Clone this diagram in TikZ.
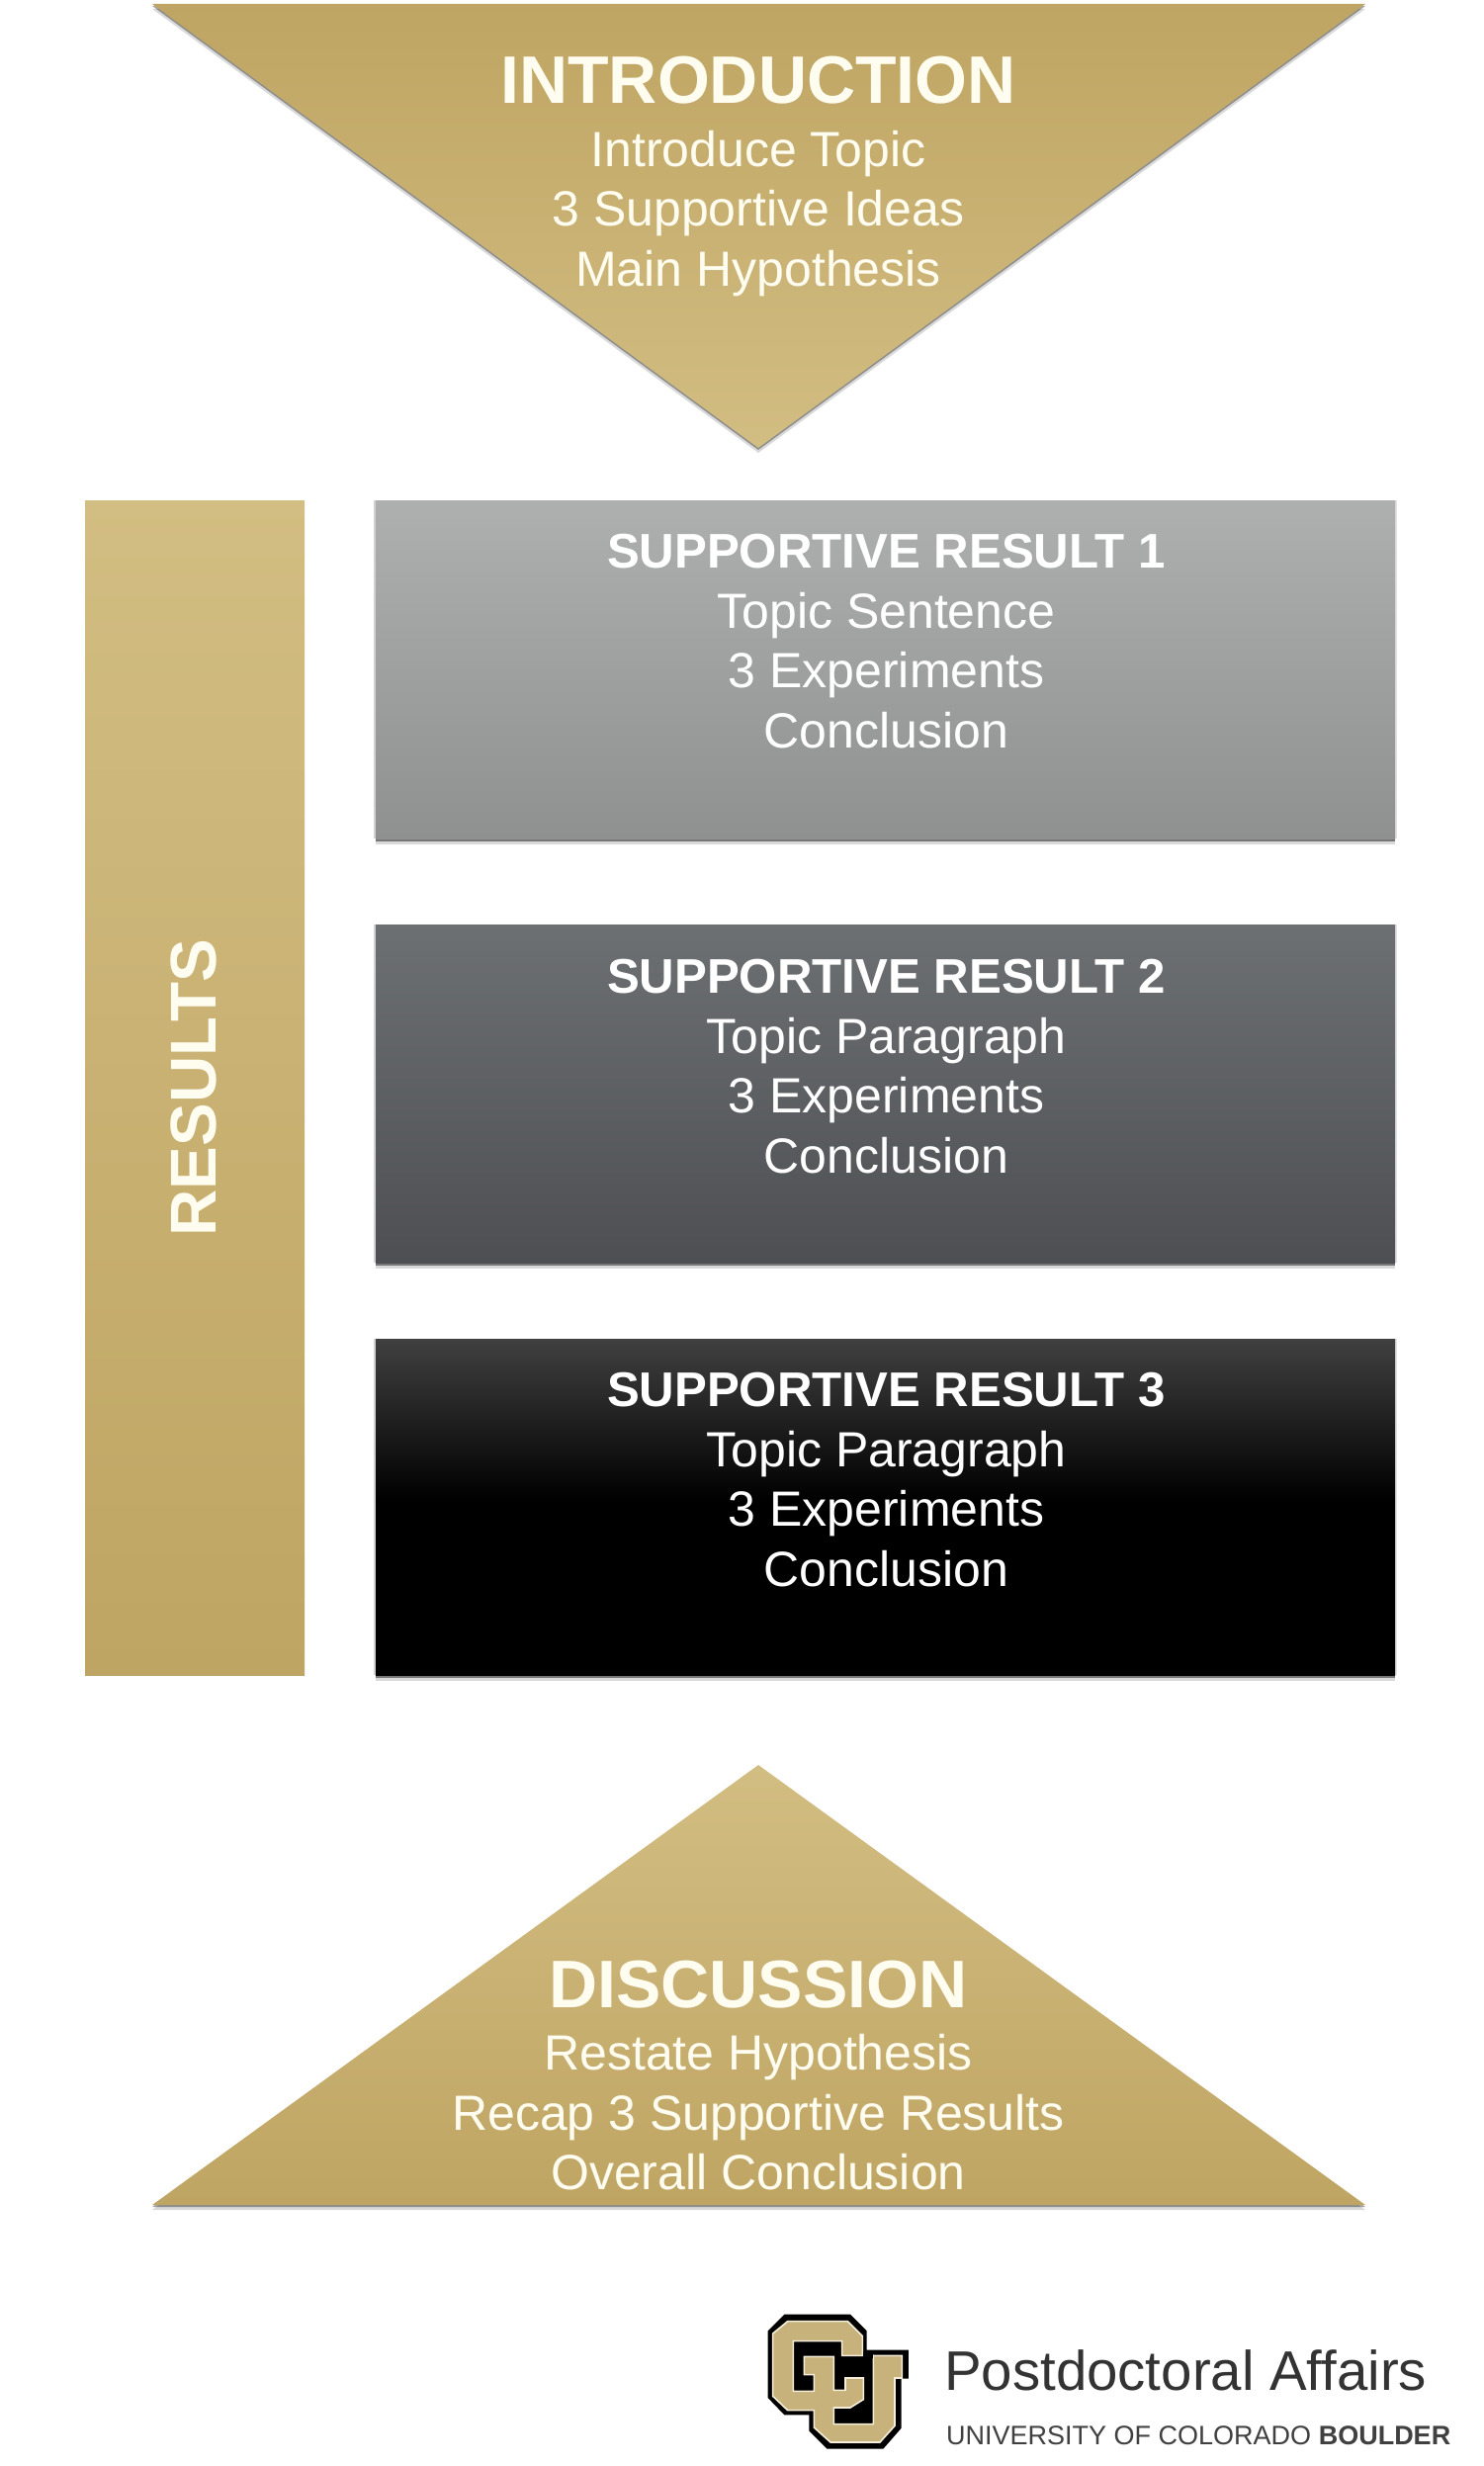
\documentclass[tikz,border=0pt]{standalone}
\usepackage{fontspec}
\setmainfont{Liberation Sans}
\usetikzlibrary{shadows}
\definecolor{goldtop}{HTML}{BFA563}
\definecolor{goldlow}{HTML}{D2BD82}
\definecolor{creamtext}{HTML}{FFFCF0}
\definecolor{logogold}{HTML}{C8B27C}
\definecolor{logocream}{HTML}{F4EEDB}
\definecolor{lighttop}{HTML}{AEB0AF}
\definecolor{lightlow}{HTML}{8F9090}
\definecolor{slatetop}{HTML}{6D7073}
\definecolor{slatelow}{HTML}{4D4F52}
\pgfdeclareverticalshading{blackfade}{100bp}{color(0bp)=(black); color(51bp)=(black); color(75bp)=(black!75!white); color(100bp)=(black!75!white)}
\tikzstyle{softshadow} = [drop shadow={shadow xshift=-2pt,shadow yshift=0pt,opacity=.18,fill=black},drop shadow={shadow xshift=2pt,shadow yshift=0pt,opacity=.12,fill=black},drop shadow={shadow xshift=0pt,shadow yshift=-6pt,opacity=.15,fill=black},drop shadow={shadow xshift=0pt,shadow yshift=-3pt,opacity=.45,fill=black}]
\tikzstyle{wedgeshadow} = [drop shadow={shadow xshift=0pt,shadow yshift=-5pt,opacity=.15,fill=black},drop shadow={shadow xshift=0pt,shadow yshift=-2pt,opacity=.35,fill=black}]
\tikzstyle{resbox} = [anchor=north west, minimum width=1031pt, minimum height=342pt, inner sep=0pt, softshadow]
\tikzstyle{lines} = [align=center, inner sep=0pt, font={\fontsize{50}{60.5}\selectfont}]
\tikzstyle{heading} = [lines, text=creamtext]
\newcommand{\bigtitle}[1]{{\fontsize{68}{60.5}\selectfont\bfseries #1}}
\newcommand{\boxtitle}[1]{{\fontsize{49.2}{60.5}\selectfont\bfseries #1}}

\begin{document}
\begin{tikzpicture}[x=1pt,y=-1pt]
    \path[use as bounding box,fill=white] (0,0) rectangle (1500,2494);
    \path[wedgeshadow,top color=goldtop,bottom color=goldlow] (154,4) -- (1381,4) -- (767,453) -- cycle;
    \path[wedgeshadow,top color=goldlow,bottom color=goldtop] (767,1785) -- (1381,2230) -- (154,2230) -- cycle;
    \node[anchor=north west,minimum width=222pt,minimum height=1188pt,inner sep=0pt,top color=goldlow,bottom color=goldtop](resultsbar) at (86,506){};
    \node[resbox,top color=lighttop,bottom color=lightlow](res1) at (380,506){};
    \node[resbox,top color=slatetop,bottom color=slatelow](res2) at (380,935){};
    \node[resbox,shade,shading=blackfade,minimum height=340pt](res3) at (380,1354){};
    \node[heading](introtext) at (767,178.5){\bigtitle{INTRODUCTION}\\[3pt]Introduce Topic\\3 Supportive Ideas\\Main Hypothesis};
    \node[heading](disctext) at (767,2099){\bigtitle{DISCUSSION}\\[3pt]Restate Hypothesis\\Recap 3 Supportive Results\\Overall Conclusion};
    \node[lines,text=white](res1text) at (896.5,648.5){\boxtitle{SUPPORTIVE RESULT 1}\\Topic Sentence\\3 Experiments\\Conclusion};
    \node[lines,text=white](res2text) at (896.5,1078.5){\boxtitle{SUPPORTIVE RESULT 2}\\Topic Paragraph\\3 Experiments\\Conclusion};
    \node[lines,text=white](res3text) at (896.5,1496.5){\boxtitle{SUPPORTIVE RESULT 3}\\Topic Paragraph\\3 Experiments\\Conclusion};
    \node[rotate=90,inner sep=0pt,text=creamtext,font={\fontsize{65.5}{65.5}\selectfont\bfseries}](resultstext) at (196,1100){RESULTS};
    \begin{scope}[shift={(765,2325)},x=.3333pt,y=-.3333pt]
    \fill[black] (85,47) -- (285,47) -- (335,97) -- (335,155) -- (462,155) -- (462,242) -- (440,242) -- (440,392) -- (385,455) -- (215,455) -- (160,400) -- (160,352) -- (85,352) -- (35,300) -- (35,97) -- cycle;
    \draw[logocream,fill=logogold,line width=1.6pt] (95,68) -- (277,68) -- (322,113) -- (322,172) -- (442,172) -- (442,240) -- (420,240) -- (420,385) -- (375,435) -- (225,435) -- (175,390) -- (175,338) -- (95,338) -- (50,295) -- (50,105) -- cycle;
    \draw[logocream,fill=black,line width=1.6pt] (112,128) -- (260,128) -- (260,172) -- (355,172) -- (355,380) -- (235,380) -- (235,330) -- (285,330) -- (325,305) -- (325,240) -- (270,240) -- (270,277) -- (235,277) -- (235,175) -- (145,175) -- (145,230) -- (175,230) -- (175,280) -- (112,280) -- cycle;
    \fill[black] (324,158) rectangle (353,180);
    \end{scope}
    \node[anchor=base west,inner sep=0pt,text=black!80,font={\fontsize{56.4}{56}\selectfont}](postdoc) at (955,2417){Postdoctoral Affairs};
    \node[anchor=base west,inner sep=0pt,text=black!75,font={\fontsize{27}{27}\selectfont}](univ) at (957,2472){UNIVERSITY OF COLORADO \textbf{BOULDER}};
\end{tikzpicture}
\end{document}
